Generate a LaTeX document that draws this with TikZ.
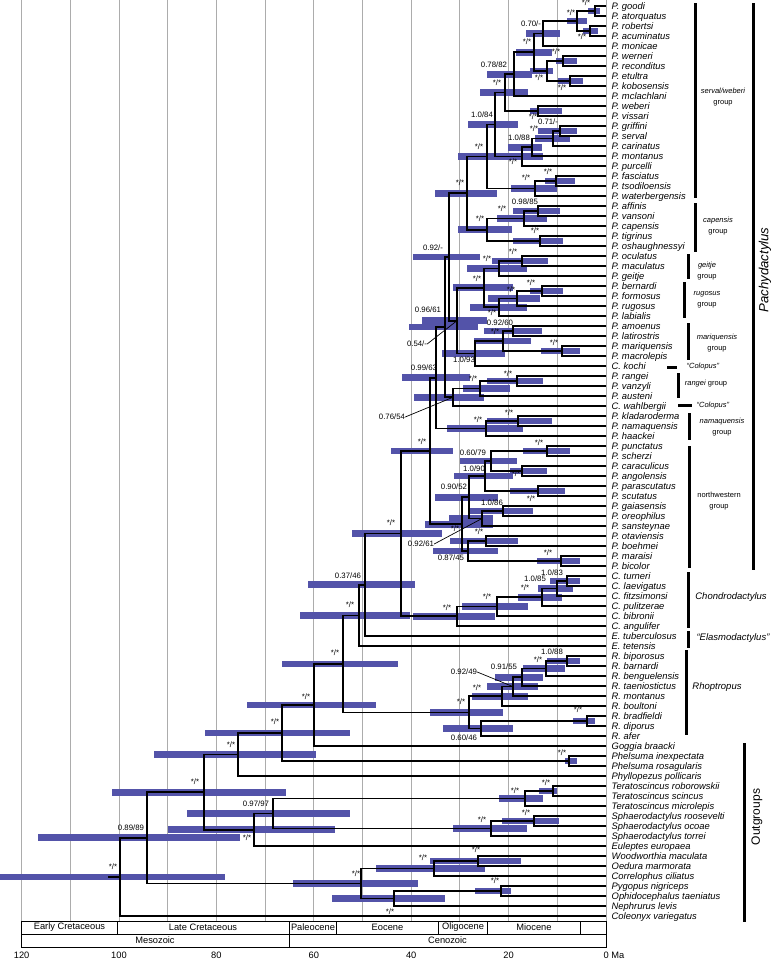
\documentclass[tikz,border=0pt]{standalone}
\usepackage{fontspec}
\setmainfont{Liberation Sans}
\usetikzlibrary{calc}
\definecolor{hpdc}{RGB}{83,83,169}
\definecolor{gridc}{RGB}{172,172,172}
\pgfdeclarelayer{gridl}
\pgfdeclarelayer{bgl}
\pgfsetlayers{gridl,bgl,main}
\newcommand\tipfont{\fontsize{9.4}{10}\selectfont\itshape}
\newcommand\labfont{\fontsize{7.8}{8}\selectfont}
\newcommand\grpfont{\fontsize{7.5}{11}\selectfont}
\newcommand\tblfont{\fontsize{9.3}{9.5}\selectfont}
\newcommand\clade[6]{%
  \path let \p1=($(#3)!0.5!(#4)$) in (#2pt,\y1) coordinate (#1);
  \begin{pgfonlayer}{bgl}
    \fill[hpd] let \p1=(#1) in (#5pt,\y1-3.4pt) rectangle (#6pt,\y1+3.4pt);
  \end{pgfonlayer}
  \draw[br] (#1) |- (#3);
  \draw[br] (#1) |- (#4);
}
\begin{document}
\begin{tikzpicture}[x=1pt,y=-1pt,
  br/.style={line width=1.7pt},
  hpd/.style={fill=hpdc},
  tip/.style={anchor=west, inner xsep=5.5pt, inner ysep=0pt, text height=6.7pt, text depth=0pt, font=\tipfont},
  lab/.style={inner sep=0pt, font=\labfont},
  gridline/.style={draw=gridc, line width=0.9pt},
  grpbar/.style={line width=3pt},
  grp/.style={inner sep=0pt, font=\grpfont, align=center},
  bigtxt/.style={inner sep=0pt, font=\fontsize{9.5}{10}\selectfont\itshape},
  ptr/.style={line width=0.7pt},
  tbl/.style={line width=0.8pt},
  tbltxt/.style={inner sep=0pt, font=\tblfont}]
\useasboundingbox (0,0) rectangle (778,961);

% grid
\begin{pgfonlayer}{gridl}
\foreach \t in {0,10,...,120} \draw[gridline] ({606-4.87*\t},0) -- ({606-4.87*\t},921);
\end{pgfonlayer}

% tips
\foreach \i/\nm in {1/P. goodi,2/P. atorquatus,3/P. robertsi,4/P. acuminatus,5/P. monicae,6/P. werneri,7/P. reconditus,8/P. etultra,9/P. kobosensis,10/P. mclachlani,11/P. weberi,12/P. vissari,13/P. griffini,14/P. serval,15/P. carinatus,16/P. montanus,17/P. purcelli,18/P. fasciatus,19/P. tsodiloensis,20/P. waterbergensis,21/P. affinis,22/P. vansoni,23/P. capensis,24/P. tigrinus,25/P. oshaughnessyi,26/P. oculatus,27/P. maculatus,28/P. geitje,29/P. bernardi,30/P. formosus,31/P. rugosus,32/P. labialis,33/P. amoenus,34/P. latirostris,35/P. mariquensis,36/P. macrolepis,37/C. kochi,38/P. rangei,39/P. vanzyli,40/P. austeni,41/C. wahlbergii,42/P. kladaroderma,43/P. namaquensis,44/P. haackei,45/P. punctatus,46/P. scherzi,47/P. caraculicus,48/P. angolensis,49/P. parascutatus,50/P. scutatus,51/P. gaiasensis,52/P. oreophilus,53/P. sansteynae,54/P. otaviensis,55/P. boehmei,56/P. maraisi,57/P. bicolor,58/C. turneri,59/C. laevigatus,60/C. fitzsimonsi,61/C. pulitzerae,62/C. bibronii,63/C. angulifer,64/E. tuberculosus,65/E. tetensis,66/R. biporosus,67/R. barnardi,68/R. benguelensis,69/R. taeniostictus,70/R. montanus,71/R. boultoni,72/R. bradfieldi,73/R. diporus,74/R. afer,75/Goggia braacki,76/Phelsuma inexpectata,77/Phelsuma rosagularis,78/Phyllopezus pollicaris,79/Teratoscincus roborowskii,80/Teratoscincus scincus,81/Teratoscincus microlepis,82/Sphaerodactylus roosevelti,83/Sphaerodactylus ocoae,84/Sphaerodactylus torrei,85/Euleptes europaea,86/Woodworthia maculata,87/Oedura marmorata,88/Correlophus ciliatus,89/Pygopus nigriceps,90/Ophidocephalus taeniatus,91/Nephrurus levis,92/Coleonyx variegatus}
  \node[tip] (t\i) at (606,{6+10*(\i-1)}) {\nm};

% clades
\clade{n1}{595}{t1}{t2}{588}{600}
\clade{n2}{590}{t3}{t4}{583}{598}
\clade{n3}{577}{n1}{n2}{567}{587}
\clade{n4}{543}{n3}{t5}{526}{560}
\clade{n5}{563}{t6}{t7}{556}{577}
\clade{n6}{570}{t8}{t9}{558}{583}
\clade{n7}{547}{n5}{n6}{530}{553}
\clade{n8}{534}{n4}{n7}{516}{552}
\clade{n9}{514}{n8}{t10}{487}{532}
\clade{n10}{538}{t11}{t12}{530}{562}
\clade{n11}{505}{n9}{n10}{480}{528}
\clade{n12}{560}{t13}{t14}{538}{577}
\clade{n13}{553}{n12}{t15}{535}{570}
\clade{n14}{532}{n13}{t16}{508}{542}
\clade{n15}{522}{n14}{t17}{505}{543}
\clade{n16}{495}{n11}{n15}{468}{518}
\clade{n17}{556}{t18}{t19}{545}{575}
\clade{n18}{535}{n17}{t20}{511}{557}
\clade{n19}{487}{n16}{n18}{458}{512}
\clade{n20}{538}{t21}{t22}{513}{560}
\clade{n21}{524}{n20}{t23}{497}{547}
\clade{n22}{540}{t24}{t25}{513}{563}
\clade{n23}{487}{n21}{n22}{458}{512}
\clade{n24}{467}{n19}{n23}{435}{497}
\clade{n25}{522}{t26}{t27}{492}{548}
\clade{n26}{499}{n25}{t28}{467}{527}
\clade{n27}{542}{t29}{t30}{530}{563}
\clade{n28}{517}{n27}{t31}{488}{540}
\clade{n29}{499}{n28}{t32}{470}{527}
\clade{n30}{484}{n26}{n29}{453}{513}
\clade{n31}{513}{t33}{t34}{484}{542}
\clade{n32}{562}{t35}{t36}{541}{580}
\clade{n33}{503}{n31}{n32}{474}{531}
\clade{n34}{475}{n33}{t37}{442}{505}
\clade{n35}{457}{n30}{n34}{422}{487}
\clade{n36}{449}{n24}{n35}{413}{480}
\clade{n37}{517}{t38}{t39}{487}{543}
\clade{n38}{480}{n37}{t40}{463}{510}
\clade{n39}{453}{n38}{t41}{414}{484}
\clade{n40}{445}{n36}{n39}{409}{478}
\clade{n41}{518}{t42}{t43}{487}{552}
\clade{n42}{486}{n41}{t44}{447}{523}
\clade{n43}{436}{n40}{n42}{402}{470}
\clade{n44}{547}{t45}{t46}{523}{570}
\clade{n45}{522}{t47}{t48}{510}{547}
\clade{n46}{491}{n44}{n45}{460}{517}
\clade{n47}{538}{t49}{t50}{510}{565}
\clade{n48}{485}{n46}{n47}{454}{513}
\clade{n49}{503}{t51}{t52}{470}{533}
\clade{n50}{482}{n49}{t53}{449}{493}
\clade{n51}{469}{n48}{n50}{435}{498}
\clade{n52}{486}{t54}{t55}{450}{518}
\clade{n53}{561}{t56}{t57}{537}{580}
\clade{n54}{468}{n52}{n53}{433}{498}
\clade{n55}{462}{n51}{n54}{425}{493}
\clade{n56}{430}{n43}{n55}{391}{453}
\clade{n57}{567}{t58}{t59}{550}{580}
\clade{n58}{557}{n57}{t60}{538}{573}
\clade{n59}{542}{n58}{t61}{518}{562}
\clade{n60}{497}{n59}{t62}{462}{528}
\clade{n61}{457}{n60}{t63}{413}{495}
\clade{n62}{401}{n56}{n61}{352}{442}
\clade{n63}{365}{n62}{t64}{308}{415}
\clade{n64}{359}{n63}{t65}{300}{410}
\clade{n65}{567}{t66}{t67}{547}{580}
\clade{n66}{546}{n65}{t68}{523}{565}
\clade{n67}{522}{n66}{t69}{495}{543}
\clade{n68}{513}{n67}{t70}{487}{538}
\clade{n69}{502}{n68}{t71}{472}{528}
\clade{n70}{587}{t72}{t73}{573}{595}
\clade{n71}{481}{n70}{t74}{443}{513}
\clade{n72}{469}{n69}{n71}{430}{503}
\clade{n73}{343}{n64}{n72}{282}{398}
\clade{n74}{314}{n73}{t75}{247}{376}
\clade{n75}{569}{t76}{t77}{565}{577}
\clade{n76}{282}{n74}{n75}{205}{350}
\clade{n77}{238}{n76}{t78}{154}{316}
\clade{n78}{553}{t79}{t80}{539}{557}
\clade{n79}{525}{n78}{t81}{499}{543}
\clade{n80}{534}{t82}{t83}{502}{559}
\clade{n81}{491}{n80}{t84}{453}{527}
\clade{n82}{273}{n79}{n81}{187}{350}
\clade{n83}{254}{n82}{t85}{168}{335}
\clade{n84}{204}{n77}{n83}{112}{286}
\clade{n85}{478}{t86}{t87}{430}{521}
\clade{n86}{434}{n85}{t88}{376}{485}
\clade{n87}{501}{t89}{t90}{475}{511}
\clade{n88}{394}{n87}{t91}{332}{445}
\clade{n89}{361}{n86}{n88}{293}{418}
\clade{n90}{147}{n84}{n89}{38}{240}
\clade{n91}{120}{n90}{t92}{0}{225}
\path let \p1=(n91) in (108pt,\y1) coordinate (rstem);
\draw[br] (rstem) -- (n91);

% support labels
\node[lab] (s1) at (586,2.5) {*/*};
\node[lab] (s2) at (582,37) {*/*};
\node[lab] (s3) at (571,13) {*/*};
\node[lab] (s4) at (531,24) {0.70/-};
\node[lab] (s5) at (556,52) {*/*};
\node[lab] (s6) at (562,88) {*/*};
\node[lab] (s7) at (539,78) {*/*};
\node[lab] (s8) at (527,42) {*/*};
\node[lab] (s9) at (494,65) {0.78/82};
\node[lab] (s10) at (533,117) {*/*};
\node[lab] (s11) at (497,83) {*/*};
\node[lab] (s12) at (548,122) {0.71/-};
\node[lab] (s13) at (534,129) {*/*};
\node[lab] (s14) at (519,138) {1.0/88};
\node[lab] (s15) at (513,162) {*/*};
\node[lab] (s16) at (482,115) {1.0/84};
\node[lab] (s17) at (548,172) {*/*};
\node[lab] (s18) at (526,178) {*/*};
\node[lab] (s19) at (479,147) {*/*};
\node[lab] (s20) at (525,202) {0.98/85};
\node[lab] (s21) at (502,209) {*/*};
\node[lab] (s22) at (535,231) {*/*};
\node[lab] (s23) at (480,219) {*/*};
\node[lab] (s24) at (460,183) {*/*};
\node[lab] (s25) at (513,252) {*/*};
\node[lab] (s26) at (487,259) {*/*};
\node[lab] (s27) at (531,283) {*/*};
\node[lab] (s28) at (511,290) {*/*};
\node[lab] (s29) at (492,313) {*/*};
\node[lab] (s30) at (477,279) {*/*};
\node[lab] (s31) at (500,323) {0.92/60};
\node[lab] (s32) at (554,343) {*/*};
\node[lab] (s33) at (495,332) {*/*};
\node[lab] (s34) at (464,360) {1.0/93};
\node[lab] (p35) at (417,344) {0.54/-};
\node[lab] (s36) at (433,248) {0.92/-};
\node[lab] (s37) at (508,374) {*/*};
\node[lab] (s38) at (473,379) {*/*};
\node[lab] (p39) at (392,417) {0.76/54};
\node[lab] (s40) at (428,310) {0.96/61};
\node[lab] (s41) at (509,413) {*/*};
\node[lab] (s42) at (478,420) {*/*};
\node[lab] (s43) at (424,368) {0.99/63};
\node[lab] (s44) at (539,443) {*/*};
\node[lab] (s45) at (516,474) {*/*};
\node[lab] (s46) at (473,453) {0.60/79};
\node[lab] (s47) at (531,499) {*/*};
\node[lab] (s48) at (474,469) {1.0/90};
\node[lab] (s49) at (492,503) {1.0/86};
\node[lab] (p50) at (421,544) {0.92/61};
\node[lab] (s51) at (454,487) {0.90/52};
\node[lab] (s52) at (479,532) {*/*};
\node[lab] (s53) at (548,553) {*/*};
\node[lab] (s54) at (451,558) {0.87/45};
\node[lab] (s55) at (455,529) {*/*};
\node[lab] (s56) at (422,442) {*/*};
\node[lab] (s57) at (552,573) {1.0/83};
\node[lab] (s58) at (535,579) {1.0/85};
\node[lab] (s59) at (525,588) {*/*};
\node[lab] (s60) at (487,597) {*/*};
\node[lab] (s61) at (447,608) {*/*};
\node[lab] (s62) at (391,523) {*/*};
\node[lab] (s63) at (348,576) {0.37/46};
\node[lab] (s64) at (350,605) {*/*};
\node[lab] (s65) at (552,652) {1.0/88};
\node[lab] (s66) at (538,660) {*/*};
\node[lab] (s67) at (504,667) {0.91/55};
\node[lab] (p68) at (464,672) {0.92/49};
\node[lab] (s69) at (477,688) {*/*};
\node[lab] (s70) at (578,710) {*/*};
\node[lab] (s71) at (464,738) {0.60/46};
\node[lab] (s72) at (461,702) {*/*};
\node[lab] (s73) at (335,653) {*/*};
\node[lab] (s74) at (306,697) {*/*};
\node[lab] (s75) at (562,753) {*/*};
\node[lab] (s76) at (275,722) {*/*};
\node[lab] (s77) at (231,745) {*/*};
\node[lab] (s78) at (546,783) {*/*};
\node[lab] (s79) at (515,791) {*/*};
\node[lab] (s80) at (526,813) {*/*};
\node[lab] (s81) at (482,820) {*/*};
\node[lab] (s82) at (256,804) {0.97/97};
\node[lab] (s83) at (247,838) {*/*};
\node[lab] (s84) at (195,782) {*/*};
\node[lab] (s85) at (476,850) {*/*};
\node[lab] (s86) at (423,858) {*/*};
\node[lab] (s87) at (495,881) {*/*};
\node[lab] (s88) at (390,912) {*/*};
\node[lab] (s89) at (356,874) {*/*};
\node[lab] (s90) at (131,828) {0.89/89};
\node[lab] (s91) at (113,867) {*/*};
\draw[ptr] (p35.east) -- (n35);
\draw[ptr] (p39.east) -- (n39);
\draw[ptr] (p50.east) -- (n50);
\draw[ptr] (p68.east) -- (n68);

% group brackets
\draw[grpbar] (695,3) -- (695,198);
\node[grp] (g1) at (723,97) {\textit{serval/weberi}\\group};
\draw[grpbar] (695,203) -- (695,252);
\node[grp] (g2) at (718,226) {\textit{capensis}\\group};
\draw[grpbar] (688,254) -- (688,279);
\node[grp] (g3) at (707,271) {\textit{geitje}\\group};
\draw[grpbar] (684,282) -- (684,318);
\node[grp] (g4) at (707,300) {\textit{rugosus}\\group};
\draw[grpbar] (688,323) -- (688,360);
\node[grp] (g5) at (717,343) {\textit{mariquensis}\\group};
\draw[grpbar] (667,367) -- (677,367);
\node[grp] (g6) at (703,367) {\textit{``Colopus''}};
\draw[grpbar] (678,373) -- (678,398);
\node[grp] (g7) at (706,384) {\textit{rangei} group};
\draw[grpbar] (678,405) -- (692,405);
\node[grp] (g8) at (713,406) {\textit{``Colopus''}};
\draw[grpbar] (689,413) -- (689,440);
\node[grp] (g9) at (722,427) {\textit{namaquensis}\\group};
\draw[grpbar] (689,446) -- (689,568);
\node[grp] (g10) at (719,501) {northwestern\\group};
\draw[grpbar] (753,3) -- (753,570);
\node[inner sep=0pt, rotate=90, font=\fontsize{13.2}{14}\selectfont\itshape] (g11) at (765,270) {Pachydactylus};
\draw[grpbar] (688,572) -- (688,628);
\node[bigtxt] (g12) at (731,597) {Chondrodactylus};
\draw[grpbar] (688,631) -- (688,648);
\node[bigtxt] (g13) at (733,638) {``Elasmodactylus''};
\draw[grpbar] (686,650) -- (686,735);
\node[bigtxt] (g14) at (717,687) {Rhoptropus};
\draw[grpbar] (744,743) -- (744,922);
\node[inner sep=0pt, rotate=90, font=\fontsize{12}{13}\selectfont] (g15) at (757,817) {Outgroups};

% time table
\draw[tbl] (21.6,921) rectangle (606,947);
\draw[tbl] (21.6,934) -- (606,934);
\foreach \bx in {117.3,289,336.7,438.2,487.8,580.6} \draw[tbl] (\bx,921) -- (\bx,934);
\draw[tbl] (289,934) -- (289,947);
\node[tbltxt] (e1) at (69.5,927.5) {Early Cretaceous};
\node[tbltxt] (e2) at (203,927.5) {Late Cretaceous};
\node[tbltxt] (e3) at (313,927.5) {Paleocene};
\node[tbltxt] (e4) at (387.5,927.5) {Eocene};
\node[tbltxt] (e5) at (463,927.5) {Oligocene};
\node[tbltxt] (e6) at (534,927.5) {Miocene};
\node[tbltxt] (r1) at (155,940.5) {Mesozoic};
\node[tbltxt] (r2) at (447.5,940.5) {Cenozoic};
\foreach \v in {120,100,80,60,40,20} \node[tbltxt] at ({606-4.87*\v},955) {\v};
\node[tbltxt, anchor=west] (ma) at (603.5,955) {0 Ma};
\end{tikzpicture}
\end{document}
